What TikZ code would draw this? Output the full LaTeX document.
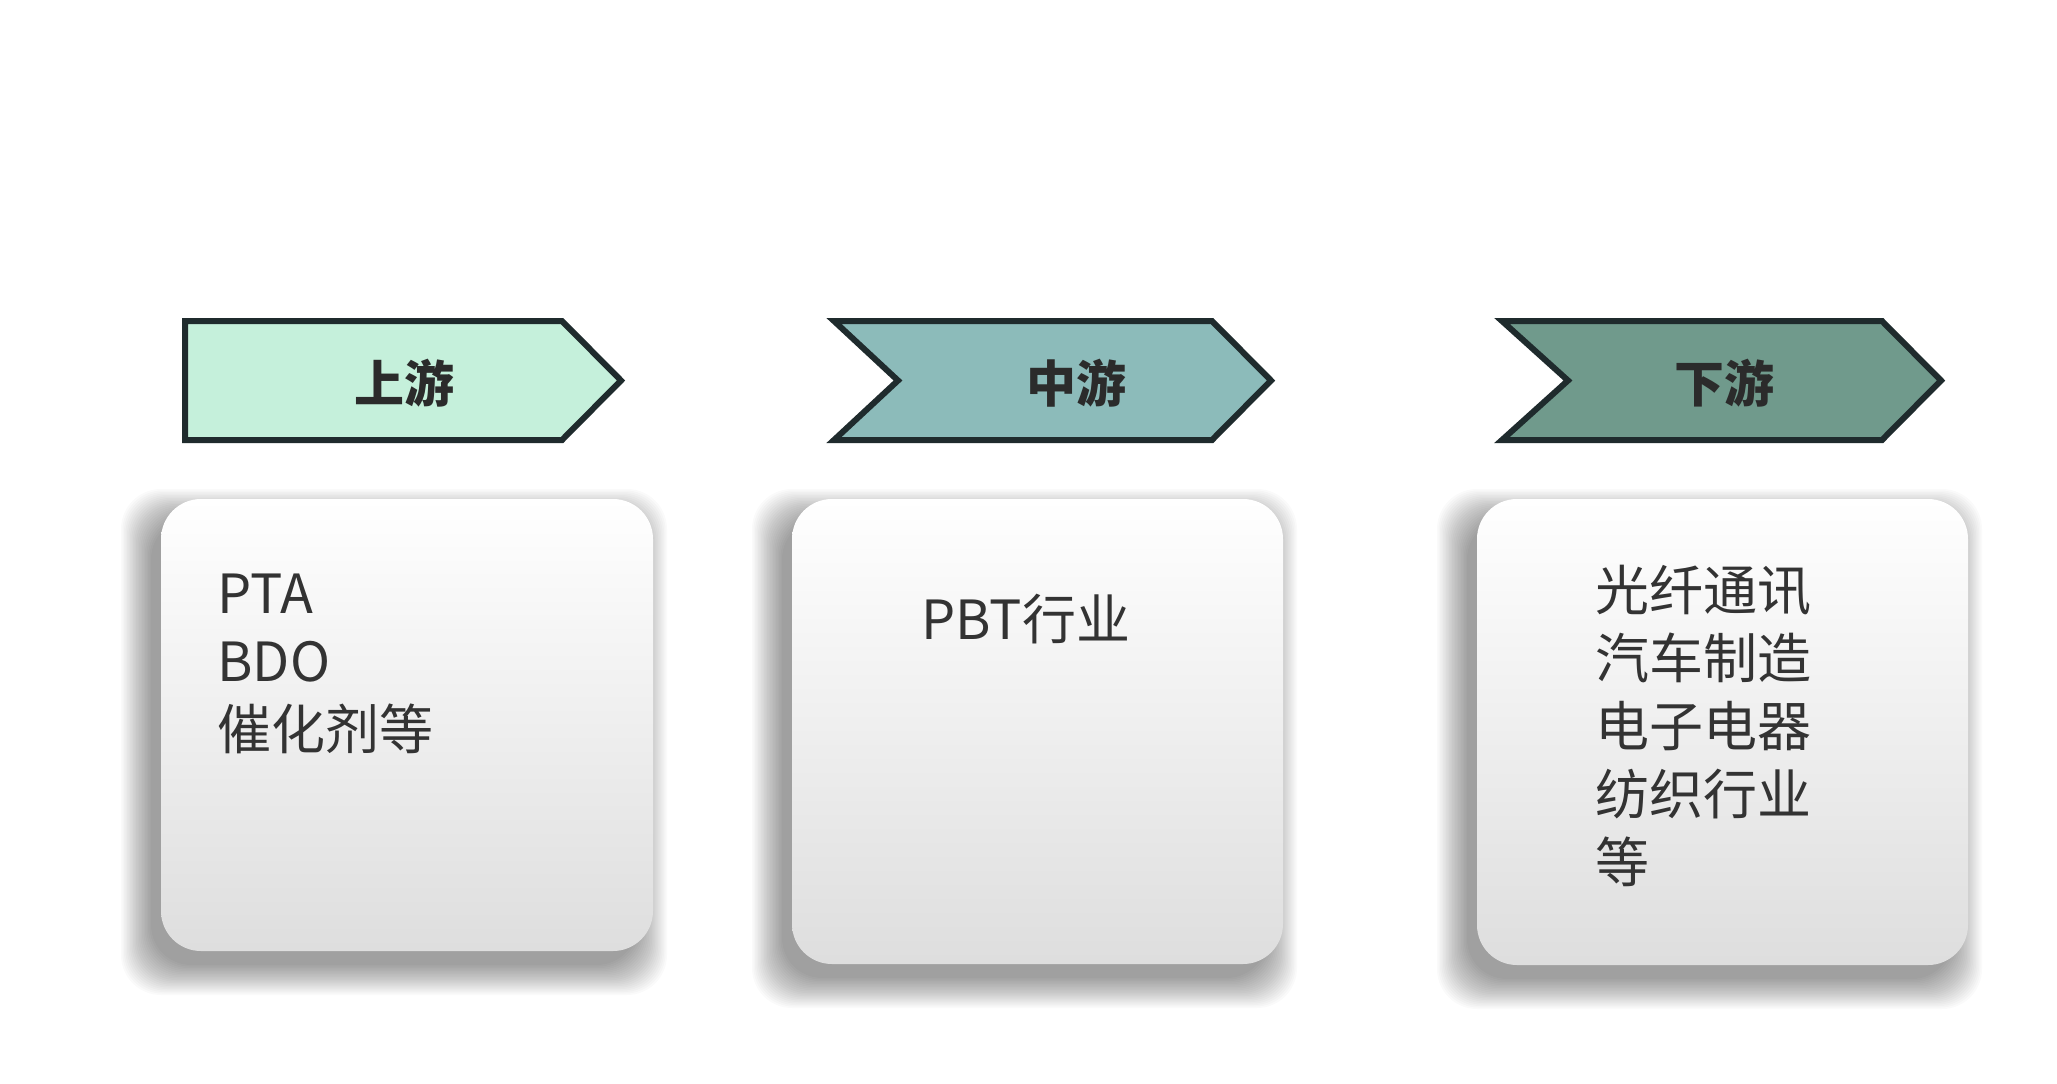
\documentclass[tikz,border=0pt]{standalone}
\usepackage{fontspec}
\setmainfont{Noto Sans CJK SC}
\usepackage{tikz}
\definecolor{headline}{HTML}{1F2B2D}
\definecolor{headtext}{HTML}{2B2B2B}
\definecolor{bodytext}{HTML}{333333}
\definecolor{upfill}{HTML}{C5F0DB}
\definecolor{midfill}{HTML}{8CBBBA}
\definecolor{downfill}{HTML}{709A8C}

\begin{document}
\begin{tikzpicture}[x=0.5pt, y=-0.5pt,
    head/.style={draw=headline, line width=3pt},
    headtext/.style={font=\fontsize{25pt}{30pt}\selectfont\bfseries, text=headtext},
    card/.style={rounded corners=20pt, top color=white, middle color=black!3,
      bottom color=black!13},
    cardshadow/.style={fill=black, opacity=0.02, rounded corners=20pt},
    cardtext/.style={font=\fontsize{27pt}{34pt}\selectfont, text=bodytext,
      align=left, inner sep=0pt, anchor=base west}]
      \fill[white] (0,0) rectangle (2057,1083);
      \useasboundingbox (0,0) rectangle (2057,1083);
      % header arrows
      \draw[head, fill=upfill] (185,321) -- (562,321) -- (621,380.5)
        -- (562,440) -- (185,440) -- cycle;
      \draw[head, fill=midfill] (834,321) -- (1212,321) -- (1271,380.5)
        -- (1212,440) -- (834,440) -- (898,380.5) -- cycle;
      \draw[head, fill=downfill] (1502,321) -- (1882,321) -- (1941,380.5)
        -- (1882,440) -- (1502,440) -- (1568,380.5) -- cycle;
      \node[headtext] (uphead) at (404,383) {上游};
      \node[headtext] (midhead) at (1076,383) {中游};
      \node[headtext] (downhead) at (1724,383) {下游};
      % cards with soft shadow
      \foreach \xa/\ya/\xb/\yb in {161/499/653/951, 792/499/1283/964,
          1477/499/1968/965} {
        \foreach \k in {0,...,20}
          \path[cardshadow] (\xa-10-1.5*\k, \ya+20-1.5*\k)
            rectangle (\xb-16+1.5*\k, \yb+14+1.5*\k);
        \path[card] (\xa,\ya) rectangle (\xb,\yb);
      }
      \node[cardtext] (uptext) at (217,749) {PTA\\BDO\\催化剂等};
      \node[cardtext] (midtext) at (921,639) {PBT行业};
      \node[cardtext] (downtext) at (1595,882)
        {光纤通讯\\汽车制造\\电子电器\\纺织行业\\等};
    \end{tikzpicture}
\end{document}
